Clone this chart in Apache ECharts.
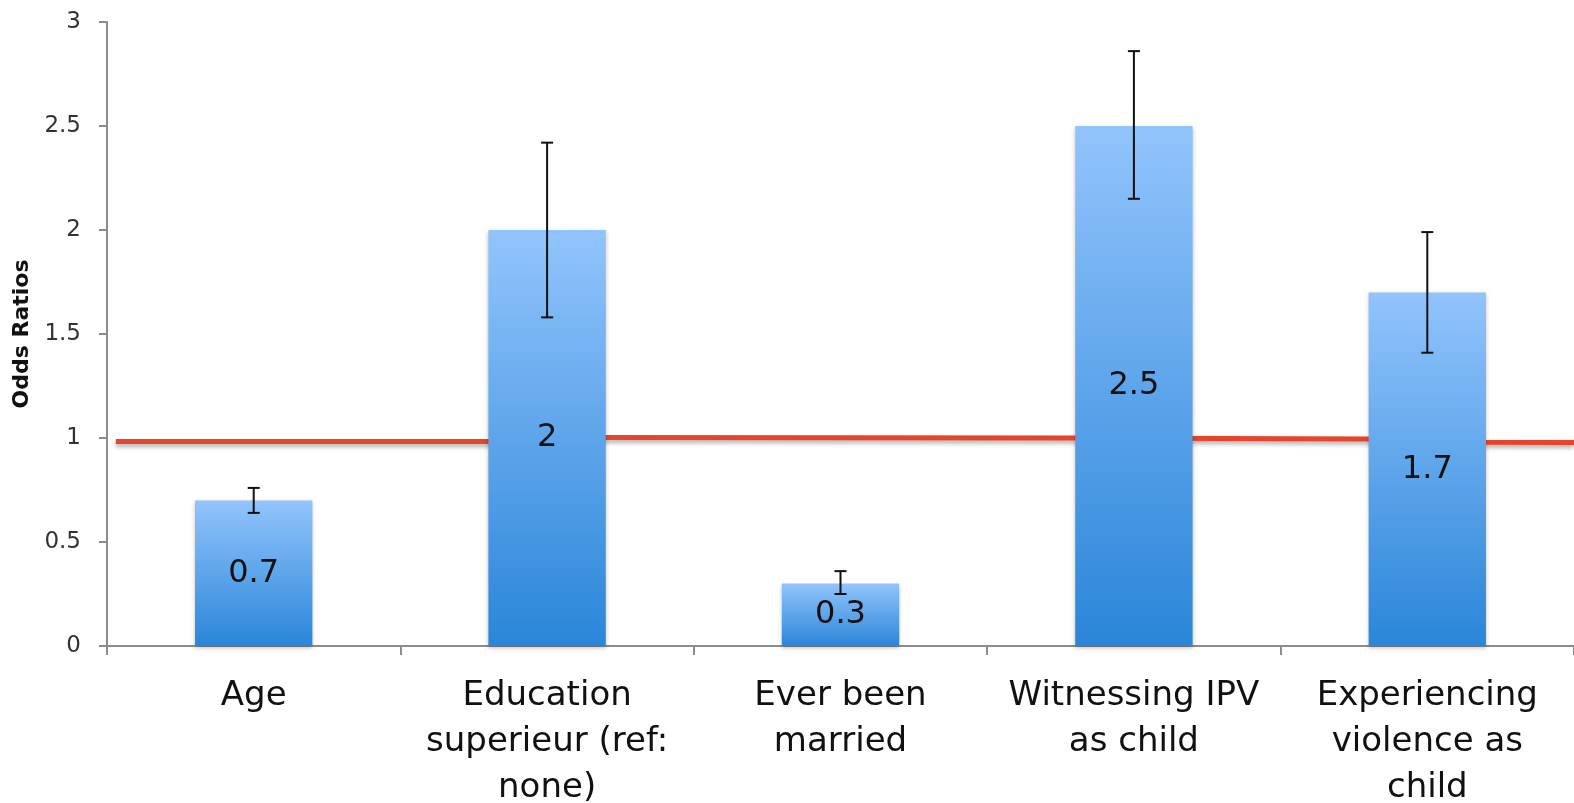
<!DOCTYPE html>
<html>
<head>
<meta charset="utf-8">
<script src="https://cdn.jsdelivr.net/npm/echarts@6/dist/echarts.min.js"></script>
<style>
  html, body { margin: 0; padding: 0; background: #fff; }
  #chart { width: 1574px; height: 803px; }
</style>
</head>
<body>
<div id="chart"></div>
<script>
// categories and values
const categories = [
  'Age',
  'Education\nsuperieur (ref:\nnone)',
  'Ever been\nmarried',
  'Witnessing IPV\nas child',
  'Experiencing\nviolence as\nchild'
]
const oddsRatios = [0.7, 2, 0.3, 2.5, 1.7]
const ciLow = [0.64, 1.58, 0.25, 2.15, 1.41]
const ciHigh = [0.76, 2.42, 0.36, 2.86, 1.99]
// hand drawn reference line near 1 (x in category units, 0..5)
const refLineX = [0.03, 1.35, 1.65, 3.3, 4.3, 4.7, 5]
const refLineY = [0.983, 0.983, 1.003, 1.0, 0.995, 0.98, 0.978]

const font = '"DejaVu Sans", sans-serif'

const chart = echarts.init(document.getElementById('chart'))

const option = {
  animation: false,
  grid: { left: 107, top: 22, right: 0, bottom: 157, outerBoundsMode: 'none' },
  xAxis: [
    {
      type: 'category',
      data: categories,
      axisLine: { lineStyle: { color: '#8c8c8c', width: 2 } },
      axisTick: { show: true, length: 9, lineStyle: { color: '#8c8c8c', width: 2 } },
      axisLabel: {
        interval: 0,
        margin: 27,
        color: '#111',
        fontSize: 34,
        lineHeight: 46,
        fontFamily: font
      }
    },
    {
      type: 'value',
      min: 0,
      max: 5,
      show: false
    }
  ],
  yAxis: {
    type: 'value',
    min: 0,
    max: 3,
    interval: 0.5,
    name: 'Odds Ratios',
    nameLocation: 'middle',
    nameGap: 73,
    nameRotate: 90,
    nameTextStyle: { fontSize: 22, fontWeight: 'bold', color: '#111', fontFamily: font },
    axisLine: { show: true, lineStyle: { color: '#8c8c8c', width: 2 } },
    axisTick: { show: true, length: 8, lineStyle: { color: '#8c8c8c', width: 2 } },
    splitLine: { show: false },
    axisLabel: { fontSize: 23, color: '#333', margin: 26, fontFamily: font }
  },
  series: [
    {
      type: 'line',
      xAxisIndex: 1,
      z: 1,
      symbol: 'none',
      data: refLineX.map((x, i) => [x, refLineY[i]]),
      lineStyle: {
        color: '#e8432b',
        width: 5,
        shadowColor: 'rgba(0,0,0,0.3)',
        shadowBlur: 4,
        shadowOffsetY: 3
      }
    },
    {
      type: 'bar',
      z: 2,
      barWidth: '40%',
      data: oddsRatios,
      itemStyle: {
        color: new echarts.graphic.LinearGradient(0, 0, 0, 1, [
          { offset: 0, color: '#92c4fc' },
          { offset: 1, color: '#2a86d9' }
        ]),
        shadowColor: 'rgba(0,0,0,0.25)',
        shadowBlur: 4,
        shadowOffsetY: 2
      },
      label: {
        show: true,
        position: 'inside',
        fontSize: 32,
        color: '#111',
        fontFamily: font
      }
    },
    {
      type: 'custom',
      z: 3,
      data: ciLow.map((lo, i) => [i, lo, ciHigh[i]]),
      renderItem: function (params, api) {
        const top = api.coord([api.value(0), api.value(2)])
        const bottom = api.coord([api.value(0), api.value(1)])
        const half = 6
        const style = { stroke: '#111', lineWidth: 2 }
        return {
          type: 'group',
          children: [
            { type: 'line', shape: { x1: top[0], y1: top[1], x2: bottom[0], y2: bottom[1] }, style: style },
            { type: 'line', shape: { x1: top[0] - half, y1: top[1], x2: top[0] + half, y2: top[1] }, style: style },
            { type: 'line', shape: { x1: bottom[0] - half, y1: bottom[1], x2: bottom[0] + half, y2: bottom[1] }, style: style }
          ]
        }
      }
    }
  ]
}

chart.setOption(option)
</script>
</body>
</html>
